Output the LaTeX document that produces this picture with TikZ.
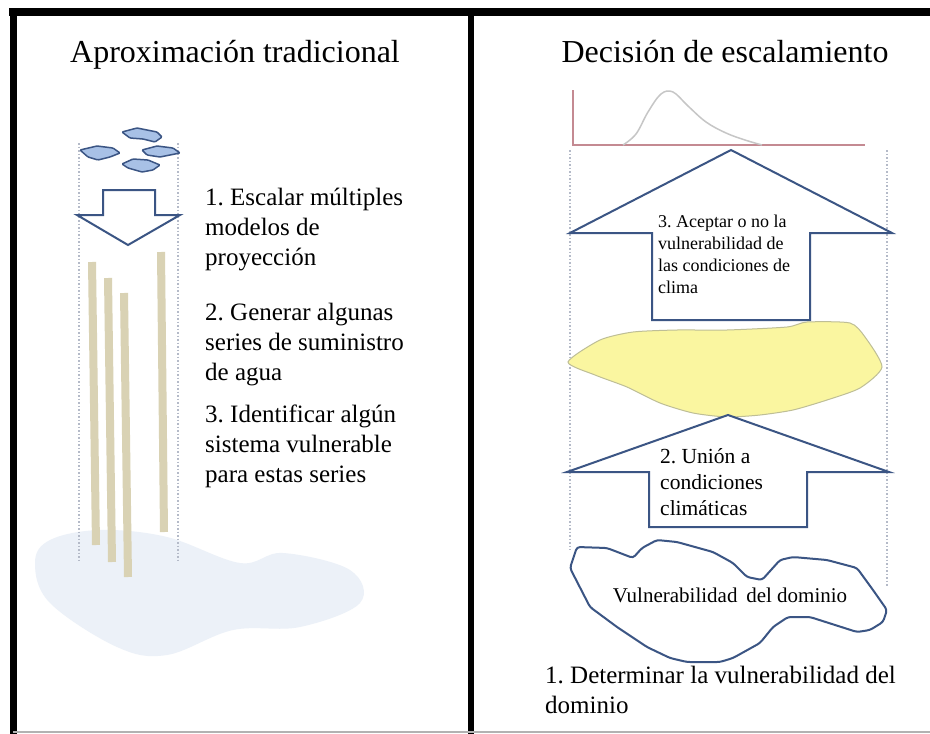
\documentclass[tikz,border=0pt]{standalone}
\usepackage{fontspec}
\setmainfont{Liberation Serif}
\usetikzlibrary{calc}
\frenchspacing

\definecolor{azulosc}{RGB}{59,85,132}
\definecolor{azulnube}{RGB}{168,193,230}
\definecolor{beige}{RGB}{217,210,180}
\definecolor{niebla}{RGB}{236,241,248}
\definecolor{amarillo}{RGB}{250,246,160}
\definecolor{bordeamarillo}{RGB}{190,190,150}
\definecolor{rosaeje}{RGB}{196,138,146}
\definecolor{grispunto}{RGB}{180,186,200}

\newcommand{\flechaArriba}[4] % x tip, y tip, y head base, y shaft bottom (px)
{
	% head and shaft in one outline
	\draw[flecha] (#1-79,#4) -- (#1-79,#3) -- (#1-161,#3) -- (#1,#2)
		-- (#1+161,#3) -- (#1+79,#3) -- (#1+79,#4) -- cycle;
}

\newcommand{\serie}[4] % x top, y top, x bottom, y bottom (px)
{
	\draw[beige, line width=8pt] (#1,#2) -- (#3,#4);
}

\tikzset{
	titulo/.style={font=\fontsize{32}{38}\selectfont, inner sep=0pt, anchor=base},
	% multi-line nodes: the base anchor sits on the last line
	paso/.style={font=\fontsize{25}{30}\selectfont, align=left, anchor=base west, inner sep=0pt},
	flecha/.style={draw=azulosc, line width=2pt, fill=white, line join=miter},
	guia/.style={grispunto, line width=1.5pt, dotted},
	nube/.style={draw=azulosc, line width=1.5pt, fill=azulnube, rounded corners=1pt}
}

\begin{document}
\begin{tikzpicture}[x=1pt, y=-1pt]
	% 930 x 734 px, y grows downwards
	\useasboundingbox (0,0) rectangle (930,734);
	\fill[white] (0,0) rectangle (930,734);

	% frame
	\draw[line width=8pt] (9,12) -- (930,12);
	\draw[line width=7pt] (13,8) -- (13,734);
	\draw[line width=6pt] (471,12) -- (471,734);
	\draw[gray!60, line width=1.5pt] (13,732) -- (930,732);

	%%% left panel: traditional approach
	\node[titulo] (tituloizq) at (235,62) {Aproximación tradicional};

	% pale basin behind the series
	\fill[niebla] plot[smooth cycle, tension=0.6] coordinates {
		(35,563) (50,603) (117,647) (167,655) (233,630) (300,627)
		(360,603) (350,570) (283,553) (240,563) (167,537) (100,530) (50,540)};

	% guide lines
	\draw[guia] (79,143) -- (79,562);
	\draw[guia] (178,143) -- (178,562);

	% projection models
	\draw[nube] (122,132) -- (137,128) -- (157,132) -- (162,137) -- (155,142)
		-- (143,139) -- (130,138) -- cycle;
	\draw[nube] (80,150) -- (97,146) -- (113,148) -- (120,153) -- (110,157)
		-- (98,160) -- (88,157) -- cycle;
	\draw[nube] (142,150) -- (157,146) -- (173,148) -- (180,153) -- (170,155)
		-- (160,157) -- (147,155) -- cycle;
	\draw[nube] (122,164) -- (133,159) -- (148,160) -- (160,165) -- (153,170)
		-- (142,172) -- (128,168) -- cycle;

	% down arrow
	\draw[flecha] (103,190) -- (155,190) -- (155,215) -- (180,215) -- (128,245)
		-- (77,215) -- (103,215) -- cycle;

	% supply series
	\serie{92}{262}{96}{545};
	\serie{108}{278}{112}{562};
	\serie{124}{293}{128}{577};
	\serie{161}{252}{164}{532};

	\node[paso] (pasoA) at (205,265) {1. Escalar múltiples\\modelos de\\proyección};
	\node[paso] (pasoB) at (205,380) {2. Generar algunas\\series de suministro\\de agua};
	\node[paso] (pasoC) at (205,482) {3. Identificar algún\\sistema vulnerable\\para estas series};

	%%% right panel: decision scaling
	\node[titulo] (tituloder) at (725,62) {Decisión de escalamiento};

	% distribution
	\draw[rosaeje, line width=1.5pt] (573,90) -- (573,145) -- (865,145);
	\draw[gray!45, line width=1.5pt] plot[smooth, tension=0.6] coordinates {
		(623,145) (636,134) (648,112) (661,94) (673,92) (688,106)
		(706,122) (726,133) (745,140) (762,145)};

	% guide lines
	\draw[guia] (570,150) -- (570,550);
	\draw[guia] (887,150) -- (887,587);

	% step 3 arrow
	\flechaArriba{731}{150}{233}{320}
	\node[font=\fontsize{18}{22}\selectfont, align=left, anchor=base west, inner sep=0pt]
		(pasoTres) at (658,293) {3. Aceptar o no la\\vulnerabilidad de\\las condiciones de\\clima};

	% climate conditions
	\draw[bordeamarillo, fill=amarillo, line width=1pt] plot[smooth cycle, tension=0.4] coordinates {
		(568,362) (600,340) (633,332) (677,330) (727,330) (787,327) (807,322)
		(850,323) (865,337) (882,367) (860,388) (827,400) (793,410) (760,415)
		(727,417) (693,413) (660,403) (627,387) (595,375)};

	% step 2 arrow
	\flechaArriba{728}{415}{472}{527}
	\node[font=\fontsize{21.5}{26}\selectfont, align=left, anchor=base west, inner sep=0pt]
		(pasoDos) at (660,515) {2. Unión a\\condiciones\\climáticas};

	% domain vulnerability
	\draw[azulosc, line width=2pt, rounded corners=3pt] (577,547) -- (607,548) -- (633,558)
		-- (642,548) -- (657,540) -- (677,542) -- (713,552) -- (733,563) -- (747,577)
		-- (762,580) -- (780,560) -- (793,557) -- (827,560) -- (857,568) -- (873,590)
		-- (887,610) -- (883,622) -- (870,630) -- (857,632) -- (810,617) -- (788,617)
		-- (773,627) -- (760,643) -- (733,658) -- (720,662) -- (687,662) -- (670,658)
		-- (647,647) -- (617,627) -- (590,607) -- (570,568) -- cycle;
	\node[font=\fontsize{21}{25}\selectfont, anchor=base, inner sep=0pt]
		(dominio) at (730,602) {Vulnerabilidad\, del dominio};

	\node[paso] (pasoUno) at (545,713) {1. Determinar la vulnerabilidad del\\dominio};
\end{tikzpicture}
\end{document}
